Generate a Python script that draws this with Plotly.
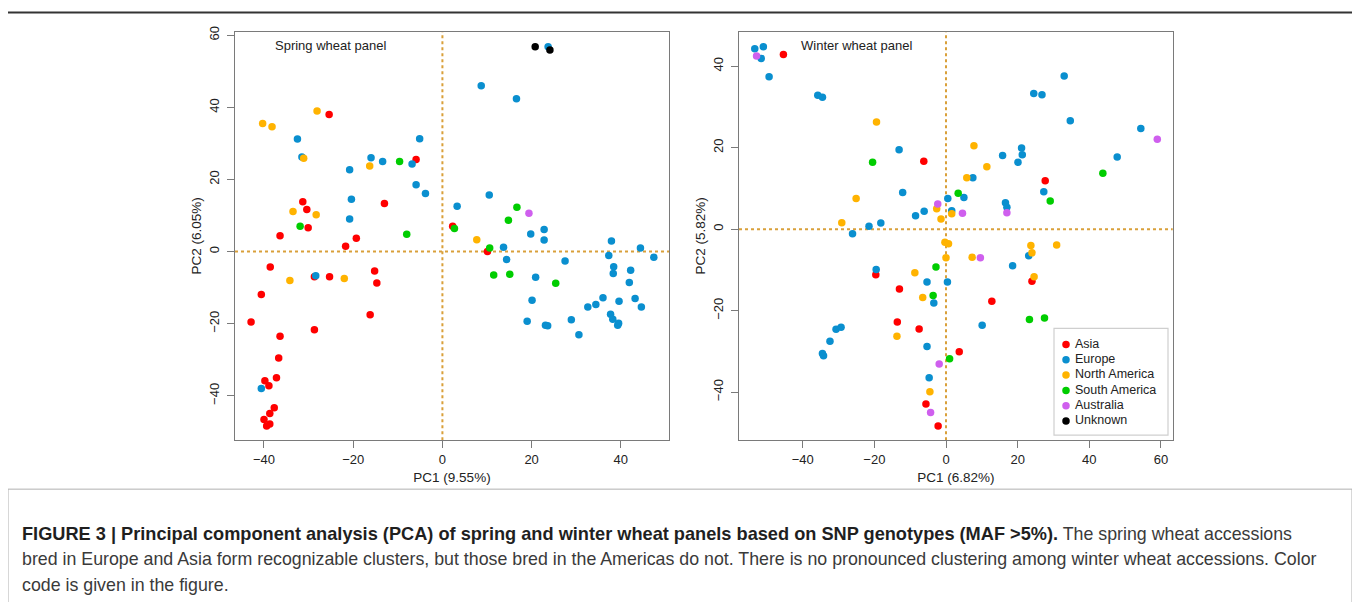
import plotly.graph_objects as go

# page has an 8px body margin: figure is sized to fit the 1360x602 window
OFF = 8
W, H = 1360 - OFF, 602 - OFF
DY = 3.5  # small vertical correction for the chart elements

REGIONS = ["Asia", "Europe", "North America", "South America", "Australia", "Unknown"]
COLORS = ["#FF0000", "#0A8FCF", "#FFB300", "#00CD00", "#CF5FEE", "#000000"]

# ---------------- Spring wheat panel (PC1 9.55%, PC2 6.05%) ----------------
spring_asia_pc1 = [-25.4, -5.9, -31.3, -30.4, -13.0, -30.1, -36.4, -19.3, -21.7, -38.6, -28.7, -25.3,
                   -15.2, -14.7, -40.6, -42.9, -28.7, -16.2, -36.4, -36.7, -37.2, -39.8, -38.9, -37.7,
                   -38.7, -40.0, -38.7, -39.4, 2.3, 10.1]
spring_asia_pc2 = [38.0, 25.5, 13.8, 11.7, 13.3, 6.6, 4.4, 3.7, 1.5, -4.3, -7.0, -7.0,
                   -5.4, -8.7, -11.9, -19.5, -21.7, -17.5, -23.5, -29.5, -35.0, -35.8, -37.2, -43.3,
                   -44.9, -46.6, -47.8, -48.4, 7.0, 0.0]

spring_europe_pc1 = [-32.5, -31.5, -16.0, -13.4, -6.8, -5.1, -20.8, -5.9, -3.8, -20.4, -20.8, -28.4,
                     -40.6, 23.7, 8.7, 16.6, 10.5, 3.3, 19.8, 22.8, 22.8, 37.9, 44.4, 47.4,
                     13.7, 14.4, 20.9, 27.5, 37.3, 38.4, 38.3, 42.2, 41.9, 20.1, 36.0, 39.6,
                     43.2, 44.6, 32.6, 34.4, 37.7, 38.2, 39.3, 39.5, 19.0, 28.9, 23.1, 23.6, 30.6]
spring_europe_pc2 = [31.2, 26.2, 26.0, 25.0, 24.3, 31.3, 22.7, 18.5, 16.1, 14.5, 9.0, -6.7,
                     -38.0, 56.8, 46.0, 42.4, 15.7, 12.6, 4.9, 6.1, 3.2, 2.9, 1.0, -1.6,
                     1.2, -2.2, -7.1, -2.6, -1.1, -4.2, -6.1, -5.2, -8.6, -13.5, -12.8, -13.8,
                     -13.0, -15.4, -15.4, -14.7, -17.4, -18.8, -20.4, -19.9, -19.3, -18.9, -20.4, -20.6, -23.1]

spring_namerica_pc1 = [-40.3, -38.2, -28.1, -31.1, -16.3, -33.5, -28.3, -34.2, -22.0, 7.7]
spring_namerica_pc2 = [35.5, 34.6, 39.0, 25.9, 23.7, 11.1, 10.2, -8.0, -7.5, 3.3]

spring_samerica_pc1 = [-9.6, -31.9, -8.0, 16.7, 14.8, 2.7, 10.6, 11.5, 15.1, 25.4]
spring_samerica_pc2 = [25.0, 7.0, 4.8, 12.3, 8.7, 6.4, 1.0, -6.5, -6.3, -8.8]

spring_australia_pc1 = [19.4]
spring_australia_pc2 = [10.6]

spring_unknown_pc1 = [20.8, 24.1]
spring_unknown_pc2 = [56.8, 55.9]

# ---------------- Winter wheat panel (PC1 6.82%, PC2 5.82%) ----------------
winter_asia_pc1 = [-45.4, -6.2, -19.6, -13.0, -13.6, -7.5, -5.6, -2.2, 27.7, 24.0, 12.8, 3.7]
winter_asia_pc2 = [42.9, 16.7, -11.2, -14.7, -22.8, -24.5, -42.9, -48.3, 11.9, -12.8, -17.7, -30.1]

winter_europe_pc1 = [-53.4, -51.0, -51.6, -49.4, -35.8, -34.5, -13.1, -12.1, -21.5, -18.2, -26.1, -8.5,
                     -6.1, 0.5, 1.6, 33.0, 24.5, 26.8, 34.7, 54.4, 21.1, 21.3, 15.8, 20.1,
                     47.8, 7.5, 27.3, 5.0, 16.6, 17.0, -19.5, -5.3, 0.4, -3.4, -30.7, -29.3,
                     -32.4, -34.5, -34.2, -5.3, -4.7, 23.1, 18.6, 10.1]
winter_europe_pc2 = [44.3, 44.8, 41.9, 37.4, 32.9, 32.4, 19.5, 9.0, 0.7, 1.5, -1.1, 3.3,
                     4.4, 7.5, 4.5, 37.6, 33.3, 33.0, 26.6, 24.7, 19.9, 18.3, 18.1, 16.4,
                     17.7, 12.6, 9.2, 7.8, 6.5, 5.4, -9.9, -13.0, -13.0, -18.1, -24.6, -24.1,
                     -27.5, -30.5, -31.1, -28.8, -36.5, -6.5, -9.0, -23.6]

winter_namerica_pc1 = [-19.4, -25.1, -29.1, -2.6, -1.4, 7.8, 11.4, 5.8, 1.6, -0.3, 0.7, 0.0,
                       -8.7, -6.5, -13.7, -4.5, 23.7, 30.9, 24.0, 7.3, 24.6]
winter_namerica_pc2 = [26.3, 7.5, 1.6, 5.0, 2.5, 20.5, 15.3, 12.6, 3.8, -3.2, -3.6, -7.0,
                       -10.7, -16.8, -26.3, -39.9, -4.0, -3.9, -5.8, -6.9, -11.7]

winter_samerica_pc1 = [-20.5, 43.8, 29.1, 3.4, -2.8, -3.6, 1.0, 23.3, 27.5]
winter_samerica_pc2 = [16.4, 13.7, 6.9, 8.8, -9.3, -16.3, -31.8, -22.2, -21.8]

winter_australia_pc1 = [-52.9, -2.3, 17.0, 4.6, 9.6, -1.9, -4.3, 59.0]
winter_australia_pc2 = [42.5, 6.2, 4.0, 3.9, -7.0, -33.1, -45.0, 22.1]

winter_unknown_pc1 = []
winter_unknown_pc2 = []

# tick labels
spring_x_ticks = [-40, -20, 0, 20, 40]
spring_y_ticks = [-40, -20, 0, 20, 40, 60]
winter_x_ticks = [-40, -20, 0, 20, 40, 60]
winter_y_ticks = [-40, -20, 0, 20, 40]

spring_series = [
    (spring_asia_pc1, spring_asia_pc2), (spring_europe_pc1, spring_europe_pc2),
    (spring_namerica_pc1, spring_namerica_pc2), (spring_samerica_pc1, spring_samerica_pc2),
    (spring_australia_pc1, spring_australia_pc2), (spring_unknown_pc1, spring_unknown_pc2)]
winter_series = [
    (winter_asia_pc1, winter_asia_pc2), (winter_europe_pc1, winter_europe_pc2),
    (winter_namerica_pc1, winter_namerica_pc2), (winter_samerica_pc1, winter_samerica_pc2),
    (winter_australia_pc1, winter_australia_pc2), (winter_unknown_pc1, winter_unknown_pc2)]

FONT = "Liberation Sans, Arial, Helvetica, sans-serif"
TXT = "#222222"
AXC = "#7a7a7a"
REF = "#D9A03A"
MS = 7.5


def px(v):
    return (v - OFF) / W


def py(v):
    return 1 - (v - OFF) / H


def pyc(v):
    # chart elements
    return py(v - DY)


fig = go.Figure()
for i, (name, col) in enumerate(zip(REGIONS, COLORS)):
    xs, ys = spring_series[i]
    fig.add_trace(go.Scatter(x=xs, y=ys, mode="markers", name=name, showlegend=False,
                             marker=dict(color=col, size=MS, line=dict(width=0)),
                             xaxis="x", yaxis="y"))
for i, (name, col) in enumerate(zip(REGIONS, COLORS)):
    xs, ys = winter_series[i]
    if xs:
        fig.add_trace(go.Scatter(x=xs, y=ys, mode="markers", name=name, showlegend=False,
                                 marker=dict(color=col, size=MS, line=dict(width=0)),
                                 xaxis="x2", yaxis="y2"))

# legend drawn on its own small axis (row index -> vertical position)
legend_rows = list(range(len(REGIONS)))
fig.add_trace(go.Scatter(x=[12] * len(REGIONS), y=legend_rows, mode="markers", showlegend=False,
                         marker=dict(color=COLORS, size=MS, line=dict(width=0)),
                         xaxis="x3", yaxis="y3", hoverinfo="skip"))
fig.add_trace(go.Scatter(x=[21] * len(REGIONS), y=legend_rows, mode="text", text=REGIONS,
                         textposition="middle right", showlegend=False,
                         textfont=dict(family=FONT, size=12.5, color=TXT),
                         xaxis="x3", yaxis="y3", hoverinfo="skip"))

axis_common = dict(showgrid=False, zeroline=False, showline=True, mirror=True, linecolor=AXC,
                   linewidth=1.3, ticks="outside", ticklen=7, tickcolor=AXC, tickwidth=1.3,
                   tickfont=dict(family=FONT, size=13, color=TXT), fixedrange=True)
hidden = dict(visible=False, showgrid=False, zeroline=False, fixedrange=True)

fig.update_layout(
    width=W, height=H, autosize=False,
    margin=dict(l=0, r=0, t=0, b=0),
    paper_bgcolor="white", plot_bgcolor="rgba(0,0,0,0)",
    font=dict(family=FONT, color=TXT),
    showlegend=False,
    xaxis=dict(domain=[px(235), px(669)], range=[-46.5, 50.8], tickvals=spring_x_ticks,
               anchor="y", title=dict(text="PC1 (9.55%)", font=dict(size=13.5, color=TXT), standoff=6),
               **axis_common),
    yaxis=dict(domain=[pyc(442), pyc(29.3)], range=[-52.3, 61.0], tickvals=spring_y_ticks,
               anchor="x", tickangle=-90, ticklabelstandoff=3,
               title=dict(text="PC2 (6.05%)", font=dict(size=13.5, color=TXT), standoff=1),
               **axis_common),
    xaxis2=dict(domain=[px(739), px(1172.7)], range=[-57.8, 63.3], tickvals=winter_x_ticks,
                anchor="y2", title=dict(text="PC1 (6.82%)", font=dict(size=13.5, color=TXT), standoff=6),
                **axis_common),
    yaxis2=dict(domain=[pyc(442), pyc(29.3)], range=[-51.8, 48.5], tickvals=winter_y_ticks,
                anchor="x2", tickangle=-90, ticklabelstandoff=3,
                title=dict(text="PC2 (5.82%)", font=dict(size=13.5, color=TXT), standoff=1),
                **axis_common),
    xaxis3=dict(domain=[px(1054), px(1168)], range=[0, 114], anchor="y3", **hidden),
    yaxis3=dict(domain=[pyc(437), pyc(329)], range=[5.92, -1.05], anchor="x3", **hidden),
)

# legend box
fig.add_shape(type="rect", xref="x3 domain", yref="y3 domain", x0=0, x1=1, y0=0, y1=1,
              line=dict(color="#cfcfcf", width=1.2), fillcolor="white", layer="below")

# reference dotted lines at 0
for xr, yr in (("x", "y"), ("x2", "y2")):
    fig.add_shape(type="line", xref=xr, yref=yr + " domain", x0=0, x1=0, y0=0, y1=1,
                  line=dict(color=REF, width=2, dash="dot"), layer="below")
    fig.add_shape(type="line", xref=xr + " domain", yref=yr, x0=0, x1=1, y0=0, y1=0,
                  line=dict(color=REF, width=2, dash="dot"), layer="below")

# panel titles
fig.add_annotation(text="Spring wheat panel", xref="paper", yref="paper", x=px(273), y=pyc(43),
                   xanchor="left", yanchor="middle", showarrow=False,
                   font=dict(family=FONT, size=13, color=TXT))
fig.add_annotation(text="Winter wheat panel", xref="paper", yref="paper", x=px(799), y=pyc(43),
                   xanchor="left", yanchor="middle", showarrow=False,
                   font=dict(family=FONT, size=13, color=TXT))

# frame lines
fig.add_shape(type="line", xref="paper", yref="paper", x0=0, x1=1, y0=pyc(10), y1=pyc(10),
              line=dict(color="#333333", width=2))
fig.add_shape(type="rect", xref="paper", yref="paper", x0=px(8), x1=px(1352), y0=py(640), y1=py(488),
              line=dict(color="#b0b0b0", width=1))

# caption
CAP = "#3a3a3a"
CAPB = "#1f1f1f"
fig.add_annotation(text="<b><span style='font-size:18.2px;color:" + CAPB + "'>FIGURE 3 | Principal component analysis (PCA) of spring and winter wheat panels based on SNP genotypes (MAF &gt;5%).</span></b> The spring wheat accessions",
                   xref="paper", yref="paper", x=px(20), y=py(533), xanchor="left", yanchor="middle",
                   showarrow=False, font=dict(family=FONT, size=17.8, color=CAP))
fig.add_annotation(text="bred in Europe and Asia form recognizable clusters, but those bred in the Americas do not. There is no pronounced clustering among winter wheat accessions. Color",
                   xref="paper", yref="paper", x=px(20), y=py(559), xanchor="left", yanchor="middle",
                   showarrow=False, font=dict(family=FONT, size=17.8, color=CAP))
fig.add_annotation(text="code is given in the figure.",
                   xref="paper", yref="paper", x=px(20), y=py(585), xanchor="left", yanchor="middle",
                   showarrow=False, font=dict(family=FONT, size=17.8, color=CAP))

fig.write_html("out.html")
